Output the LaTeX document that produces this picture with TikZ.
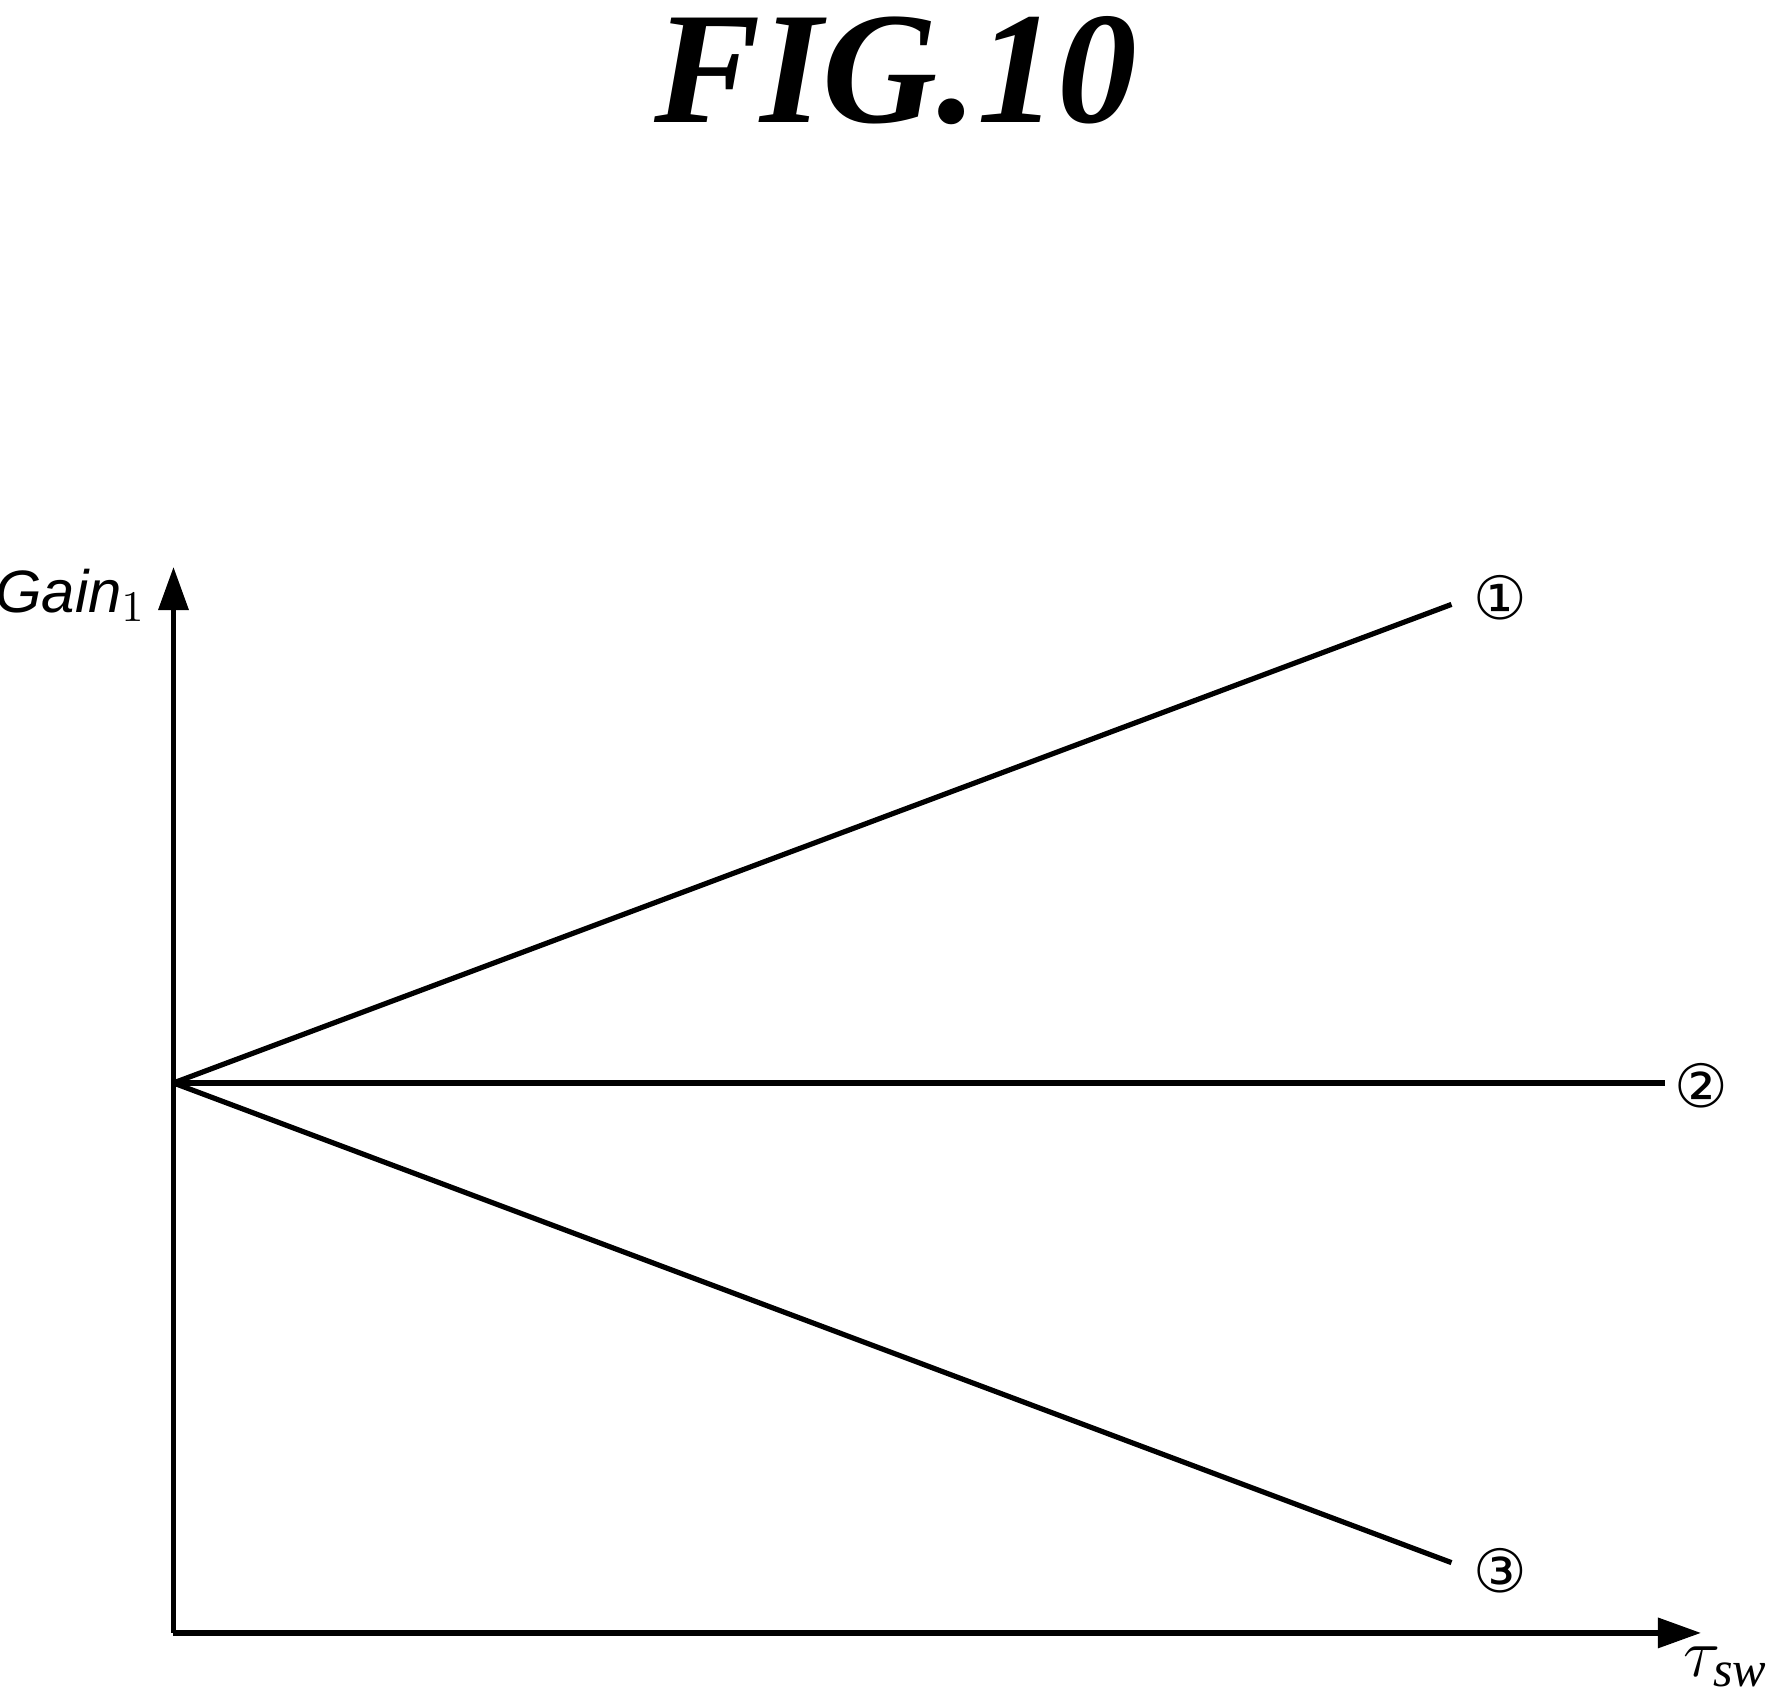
\documentclass[tikz,border=0pt]{standalone}
\usepackage{fontspec}
\setmainfont{Liberation Serif}
\newfontfamily\dejavu{DejaVu Sans}
\newfontfamily\lsans{Liberation Sans}
\usetikzlibrary{arrows.meta}
\begin{document}
\begin{tikzpicture}[x=0.01cm,y=-0.01cm,
  axis/.style={line width=1.3pt,-{Triangle[length=0.38cm,width=0.26cm]}},
  curve/.style={line width=1.3pt},
  lbl/.style={font=\dejavu\fontsize{15}{15}\selectfont}]
\useasboundingbox (0,0) rectangle (1560,1494);
\node (title) at (790,62) {\fontsize{40}{40}\selectfont\itshape\bfseries FIG.10};
\coordinate (O) at (153,1440);
\coordinate (Ytip) at (153,500);
\coordinate (Xtip) at (1500,1440);
\coordinate (S) at (153,955);
\coordinate (E1) at (1280,533);
\coordinate (E2) at (1468,955);
\coordinate (E3) at (1280,1378);
\draw[axis] (O) -- (Ytip);
\draw[axis] (O) -- (Xtip);
\draw[curve] (S) -- (E1);
\draw[curve] (S) -- (E2);
\draw[curve] (S) -- (E3);
\node[lbl] (l1) at (1323,527) {①};
\node[lbl] (l2) at (1500,957) {②};
\node[lbl] (l3) at (1323,1385) {③};
\node (gain) at (62,525) {\lsans\fontsize{15}{15}\selectfont\itshape Gain$_1$};
\node (tau) at (1522,1470) {\fontsize{18}{18}\selectfont$\tau_{\mathit{\lsans sw}}$};
\end{tikzpicture}
\end{document}
